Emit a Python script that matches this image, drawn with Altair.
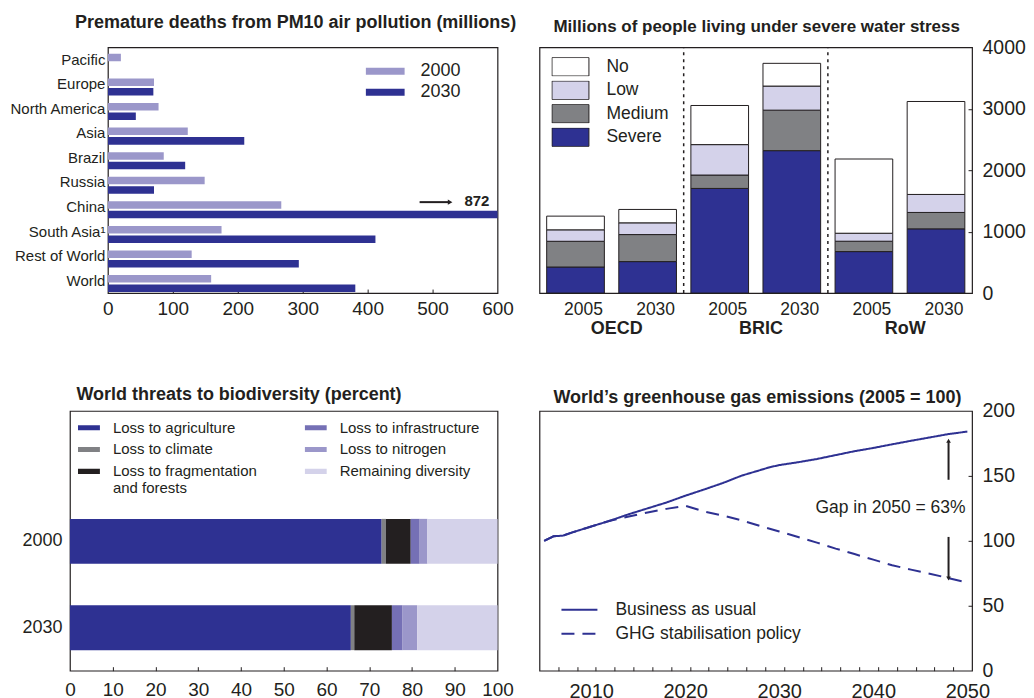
import altair as alt
import pandas as pd

FONT = "Liberation Sans"
INK = "#231f20"
NAVY = "#2e3192"
LILAC = "#9b97ca"
PALE = "#d4d2ea"
GREY = "#808184"
MIDPURPLE = "#7570b5"

# ---------------- Panel 1: premature deaths ----------------
regions = ["Pacific", "Europe", "North America", "Asia", "Brazil", "Russia",
           "China", "South Asia¹", "Rest of World", "World"]
deaths_2000 = [20, 71, 78, 123, 86, 149, 267, 175, 129, 159]
deaths_2030 = [None, 70, 43, 210, 119, 71, 872, 412, 294, 381]
death_years = ["2000", "2030"]

# ---------------- Panel 2: water stress ----------------
water_groups = ["OECD", "BRIC", "RoW"]
water_years = ["2005", "2030"]
water_levels = ["No", "Low", "Medium", "Severe"]
water_severe = [424, 512, 1703, 2318, 675, 1045]
water_medium = [419, 440, 218, 659, 169, 267]
water_low = [186, 191, 495, 392, 130, 293]
water_no = [223, 218, 637, 370, 1208, 1513]

# ---------------- Panel 3: biodiversity ----------------
bio_years = ["2000", "2030"]
bio_categories = ["Loss to agriculture", "Loss to climate",
                  "Loss to fragmentation\nand forests", "Loss to infrastructure",
                  "Loss to nitrogen", "Remaining diversity"]
bio_colors = [NAVY, GREY, INK, MIDPURPLE, LILAC, PALE]
bio_2000 = [72.9, 1.0, 5.8, 2.1, 1.8, 16.4]
bio_2030 = [65.7, 0.8, 8.8, 2.5, 3.4, 18.8]

# ---------------- Panel 4: GHG emissions ----------------
bau_years = [2005, 2006, 2007, 2008, 2010, 2012, 2014, 2016, 2018, 2020, 2022,
             2024, 2026, 2028, 2029, 2030, 2032, 2034, 2036, 2038, 2040, 2042,
             2044, 2046, 2048, 2050]
bau_values = [100, 103.5, 104, 106.5, 111, 115.5, 120.5, 125, 129.5, 134.7, 139.5,
              144.5, 150.2, 154.5, 156.7, 158.3, 160.5, 163, 166, 169, 171.5, 174.3,
              177, 179.6, 182.2, 184.1]
pol_years = [2005, 2006, 2007, 2008, 2010, 2012, 2014, 2016, 2018, 2020, 2022,
             2024, 2026, 2028, 2030, 2032, 2034, 2036, 2038, 2040, 2042, 2044,
             2046, 2048, 2050]
pol_values = [100, 103.5, 104, 106.5, 111, 115.5, 118.7, 121.8, 124.6, 127, 122.6,
              119.5, 115.7, 111.3, 107.2, 102.9, 98.6, 94, 89.8, 85.5, 81.2, 77.8,
              74.7, 71.3, 67.9]
series_names = ["Business as usual", "GHG stabilisation policy"]

# ---------------- sizes ----------------
W1, H1 = 390, 246
W2, H2 = 433, 246
W3, H3 = 428, 260
W4, H4 = 433, 260


def tick_axis_x(values, h):
    return alt.Axis(orient="top", offset=-h, values=values, labels=False, domain=False,
                    ticks=True, tickSize=4, tickColor=INK, tickWidth=1, title=None,
                    grid=False, minExtent=0, maxExtent=0)


def tick_axis_y(values, w):
    return alt.Axis(orient="left", offset=-w, values=values, labels=False, domain=False,
                    ticks=True, tickSize=4, tickColor=INK, tickWidth=1, title=None,
                    grid=False, minExtent=0, maxExtent=0)


def panel_title(text, dx, offset, size=18):
    return alt.Title(text, anchor="start", frame="group", dx=dx, offset=offset,
                     fontSize=size, font=FONT, fontWeight="bold", color=INK,
                     baseline="alphabetic")


# ================= Panel 1 =================
rows1 = []
for r, a, b in zip(regions, deaths_2000, deaths_2030):
    rows1.append({"region": r, "year": "2000", "deaths": a})
    if b is not None:
        rows1.append({"region": r, "year": "2030", "deaths": b})
df1 = pd.DataFrame(rows1)

x1_scale = alt.Scale(domain=[0, 600], nice=False)
y1_scale = alt.Scale(domain=regions, paddingInner=0, paddingOuter=0)

bars1 = alt.Chart(df1).mark_bar(clip=True).encode(
    x=alt.X("deaths:Q", scale=x1_scale,
            axis=alt.Axis(title=None, values=[0, 100, 200, 300, 400, 500, 600], ticks=False,
                          domain=False, labelFontSize=19, labelPadding=6, labelFlush=False,
                          grid=False)),
    y=alt.Y("region:N", scale=y1_scale,
            axis=alt.Axis(title=None, ticks=False, domain=False, labelFontSize=15,
                          labelPadding=3, minExtent=96, maxExtent=96, labelLimit=200)),
    yOffset=alt.YOffset("year:N", scale=alt.Scale(domain=death_years, paddingInner=0.21,
                                                  paddingOuter=0.395, align=0.87)),
    color=alt.Color("year:N", scale=alt.Scale(domain=death_years, range=[LILAC, NAVY]),
                    legend=alt.Legend(orient="none", legendX=258, legendY=17, title=None,
                                      symbolType="M-1,-0.18H1V0.18H-1Z", symbolSize=1521,
                                      symbolStrokeWidth=0, clipHeight=14, rowPadding=3,
                                      labelFontSize=18, labelOffset=16)),
)

china_value = deaths_2030[regions.index("China")]
ARROW_FROM, ARROW_TO, LABEL_AT = 480, 527, 549
ann1 = pd.DataFrame({"region": ["China"], "x0": [ARROW_FROM], "x1": [ARROW_TO],
                     "tx": [LABEL_AT], "label": [str(china_value)]})
ann_y = alt.Y("region:N", scale=y1_scale, bandPosition=0.3, axis=None)
arrow1 = alt.Chart(ann1).mark_rule(color=INK, strokeWidth=2).encode(
    x=alt.X("x0:Q", scale=x1_scale, axis=tick_axis_x([100, 200, 300, 400, 500], H1)),
    x2="x1:Q", y=ann_y)
head1 = alt.Chart(ann1).mark_point(shape="triangle-right", filled=True, size=28,
                                   color=INK, opacity=1).encode(
    x=alt.X("x1:Q", scale=x1_scale, axis=None), y=ann_y)
text1 = alt.Chart(ann1).mark_text(align="left", baseline="middle", fontSize=15,
                                  fontWeight="bold", font=FONT, color=INK, dy=-1).encode(
    x=alt.X("tx:Q", scale=x1_scale, axis=None), y=ann_y, text="label:N")

p1 = alt.layer(bars1, arrow1, head1, text1).resolve_axis(
    x="independent", y="independent").properties(
    width=W1, height=H1,
    title=panel_title("Premature deaths from PM10 air pollution (millions)", -33, 1.5))

# ================= Panel 2 =================
keys2 = [f"{g} {y}" for g in water_groups for y in water_years]
rows2 = []
for i, k in enumerate(keys2):
    for order, (lvl, arr) in enumerate([("Severe", water_severe), ("Medium", water_medium),
                                        ("Low", water_low), ("No", water_no)]):
        rows2.append({"key": k, "level": lvl, "people": arr[i], "order": order})
df2 = pd.DataFrame(rows2)

x2_scale = alt.Scale(domain=keys2, paddingInner=0.2, paddingOuter=0.1)
y2_scale = alt.Scale(domain=[0, 4000], nice=False)

bars2 = alt.Chart(df2).mark_bar(stroke=INK, strokeWidth=1).encode(
    x=alt.X("key:N", scale=x2_scale,
            axis=alt.Axis(title=None, labelExpr="split(datum.label, ' ')[1]", ticks=False,
                          domain=False, labelFontSize=17.5, labelPadding=7, labelOffset=8,
                          labelAngle=0)),
    y=alt.Y("people:Q", stack="zero", scale=y2_scale,
            axis=alt.Axis(orient="right", values=[0, 1000, 2000, 3000, 4000], format="d",
                          ticks=False, domain=False, labelFontSize=19.5, labelPadding=10,
                          title=None, grid=False)),
    color=alt.Color("level:N",
                    scale=alt.Scale(domain=water_levels, range=["#ffffff", PALE, GREY, NAVY]),
                    legend=alt.Legend(orient="none", legendX=12, legendY=10, title=None,
                                      symbolType="M-1,-0.5H1V0.5H-1Z", symbolSize=1369,
                                      symbolStrokeColor=INK, symbolStrokeWidth=1,
                                      clipHeight=19, rowPadding=4.5,
                                      labelFontSize=17.5, labelOffset=17)),
    order=alt.Order("order:Q"),
)

sep_df = pd.DataFrame({"key": [f"{g} {water_years[0]}" for g in water_groups[1:]],
                       "y0": [0, 0], "y1": [4000, 4000]})
seps2 = alt.Chart(sep_df).mark_rule(color=INK, strokeWidth=1.5, strokeDash=[3, 4],
                                    xOffset=-7.2).encode(
    x=alt.X("key:N", scale=x2_scale, bandPosition=0, axis=None),
    y=alt.Y("y0:Q", scale=y2_scale, axis=tick_axis_y([1000, 2000, 3000], W2)),
    y2="y1:Q")

grp_df = pd.DataFrame({"key": [f"{g} {water_years[1]}" for g in water_groups],
                       "group": water_groups})
grp2 = alt.Chart(grp_df).mark_text(fontSize=18, fontWeight="bold", font=FONT, color=INK,
                                   baseline="middle", xOffset=-2).encode(
    x=alt.X("key:N", scale=x2_scale, bandPosition=0, axis=None),
    y=alt.value(H2 + 36), text="group:N")

p2 = alt.layer(bars2, seps2, grp2).resolve_axis(
    x="independent", y="independent").properties(
    width=W2, height=H2,
    title=panel_title("Millions of people living under severe water stress", 14, -11.5, 17))

# ================= Panel 3 =================
rows3 = []
for yr, vals in zip(bio_years, [bio_2000, bio_2030]):
    for order, (c, v) in enumerate(zip(bio_categories, vals)):
        rows3.append({"year": yr, "category": c, "pct": v, "order": order})
df3 = pd.DataFrame(rows3)

x3_scale = alt.Scale(domain=[0, 100], nice=False)
y3_scale = alt.Scale(domain=bio_years, paddingInner=0.48, paddingOuter=0.744, align=0.84)

bars3 = alt.Chart(df3).mark_bar().encode(
    x=alt.X("pct:Q", stack="zero", scale=x3_scale,
            axis=alt.Axis(title=None, values=list(range(0, 101, 10)), ticks=False,
                          domain=False, labelFontSize=19, labelPadding=10, labelFlush=False,
                          grid=False)),
    y=alt.Y("year:N", scale=y3_scale,
            axis=alt.Axis(title=None, ticks=False, domain=False, labelFontSize=18,
                          labelPadding=8, minExtent=61, maxExtent=61)),
    color=alt.Color("category:N", scale=alt.Scale(domain=bio_categories, range=bio_colors),
                    legend=alt.Legend(orient="none", legendX=8, legendY=9, title=None,
                                      columns=2, columnPadding=47,
                                      symbolType="M-1,-0.23H1V0.23H-1Z", symbolSize=484,
                                      symbolStrokeWidth=0, clipHeight=15, rowPadding=6,
                                      labelFontSize=15, labelOffset=13, labelLimit=300,
                                      labelExpr="split(datum.label, '\\n')")),
    order=alt.Order("order:Q"),
)
ticks3 = alt.Chart(df3).mark_bar(opacity=0).encode(
    x=alt.X("pct:Q", stack="zero", scale=x3_scale,
            axis=tick_axis_x(list(range(10, 100, 10)), H3)),
    y=alt.Y("year:N", scale=y3_scale, axis=None),
    detail="category:N",
    order=alt.Order("order:Q"),
)

p3 = alt.layer(bars3, ticks3).resolve_axis(x="independent", y="independent").properties(
    width=W3, height=H3,
    title=panel_title("World threats to biodiversity (percent)", 6.5, -7.5))

# ================= Panel 4 =================
df4 = pd.concat([
    pd.DataFrame({"year": bau_years, "value": bau_values, "series": series_names[0]}),
    pd.DataFrame({"year": pol_years, "value": pol_values, "series": series_names[1]}),
], ignore_index=True)

x4_scale = alt.Scale(domain=[2004.5, 2050.5], nice=False, zero=False)
y4_scale = alt.Scale(domain=[0, 200], nice=False)

lines4 = alt.Chart(df4).mark_line(color=NAVY, strokeWidth=2).encode(
    x=alt.X("year:Q", scale=x4_scale,
            axis=alt.Axis(title=None, values=[2010, 2020, 2030, 2040, 2050], format="d",
                          ticks=False, domain=False, labelFontSize=20, labelPadding=11,
                          labelFlush=False, grid=False)),
    y=alt.Y("value:Q", scale=y4_scale,
            axis=alt.Axis(orient="right", values=[0, 50, 100, 150, 200], ticks=False,
                          domain=False, labelFontSize=19.5, labelPadding=10, title=None,
                          grid=False)),
    strokeDash=alt.StrokeDash("series:N",
                              scale=alt.Scale(domain=series_names, range=[[1, 0], [13, 8]]),
                              legend=alt.Legend(orient="none", legendX=21, legendY=190,
                                                title=None, symbolType="M-1,0H1",
                                                symbolSize=1296, symbolStrokeColor=NAVY,
                                                symbolStrokeWidth=2, clipHeight=18,
                                                rowPadding=6, labelFontSize=17.5,
                                                labelOffset=17, labelLimit=300)),
    detail="series:N",
)

gap_pct = round((bau_values[-1] - pol_values[-1]) / bau_values[-1] * 100)
GAP_YEAR = 2048
arrows_df = pd.DataFrame({"year": [GAP_YEAR, GAP_YEAR], "y0": [147, 103], "y1": [176, 72]})
arrows4 = alt.Chart(arrows_df).mark_rule(color=INK, strokeWidth=2).encode(
    x=alt.X("year:Q", scale=x4_scale, axis=tick_axis_x([2006.5 + 2 * i for i in range(22)], H4)),
    y=alt.Y("y0:Q", scale=y4_scale, axis=tick_axis_y([50, 100, 150], W4)),
    y2="y1:Q")
heads_df = pd.DataFrame({"year": [GAP_YEAR, GAP_YEAR], "v": [177, 71],
                         "shape": ["triangle-up", "triangle-down"]})
heads4 = alt.Chart(heads_df).mark_point(filled=True, size=22, color=INK, opacity=1).encode(
    x=alt.X("year:Q", scale=x4_scale, axis=None),
    y=alt.Y("v:Q", scale=y4_scale, axis=None),
    shape=alt.Shape("shape:N", scale=None, legend=None))
gap_df = pd.DataFrame({"year": [2049.8], "v": [125.6], "label": [f"Gap in 2050 = {gap_pct}%"]})
gap4 = alt.Chart(gap_df).mark_text(align="right", baseline="middle", fontSize=17.5,
                                   font=FONT, color=INK).encode(
    x=alt.X("year:Q", scale=x4_scale, axis=None),
    y=alt.Y("v:Q", scale=y4_scale, axis=None), text="label:N")

p4 = alt.layer(lines4, arrows4, heads4, gap4).resolve_axis(
    x="independent", y="independent").properties(
    width=W4, height=H4,
    title=panel_title("World\u2019s greenhouse gas emissions (2005 = 100)", 14, -20.5))

# ================= Layout =================
def spacer(w, h):
    return alt.Chart(pd.DataFrame({"a": [0]})).mark_point(opacity=0).encode(
        x=alt.value(0), y=alt.value(0)
    ).properties(width=w, height=h, view=alt.ViewBackground(stroke="transparent"))


row1 = alt.hconcat(spacer(37, H1), p1, spacer(40, H1), p2, spacing=1,
                   bounds="flush").resolve_scale(color="independent")
row2 = alt.hconcat(p3, p4, spacing=42, bounds="flush").resolve_scale(
    color="independent", strokeDash="independent", shape="independent")
chart = alt.vconcat(row1, row2, spacing=46).resolve_scale(
    color="independent", strokeDash="independent", shape="independent"
).properties(
    padding={"left": 0, "top": 4, "right": 0, "bottom": 0}
).configure_axis(
    labelFont=FONT, labelColor=INK, grid=False
).configure_legend(
    labelFont=FONT, labelColor=INK
).configure_view(
    stroke=INK, strokeWidth=1.2
).configure_title(
    font=FONT, color=INK
)

chart.save("out.html", embed_options={"renderer": "svg", "actions": False})
